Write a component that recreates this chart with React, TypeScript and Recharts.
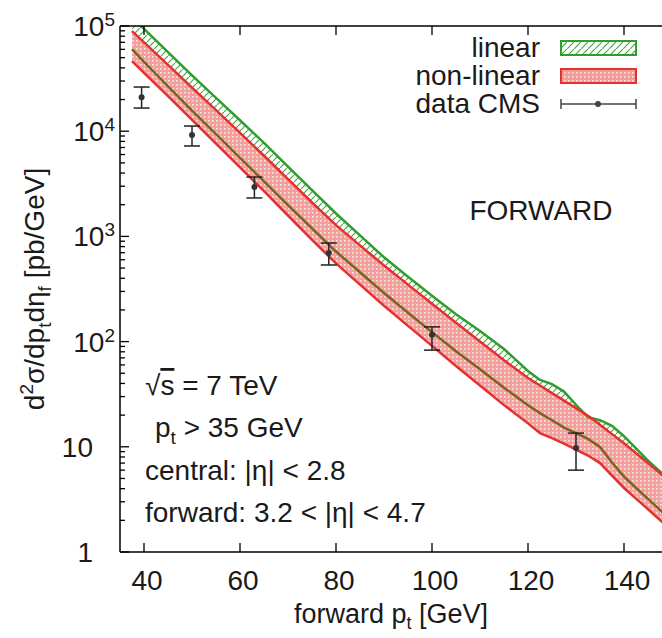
import React from 'react';
import { ComposedChart, Area, Line, Scatter, ErrorBar, XAxis, YAxis } from 'recharts';

// forward jet pt grid [GeV]
const pt = [37.5, 40, 45, 50, 55, 60, 65, 70, 75, 80, 85, 90, 95, 100, 105, 110, 115, 120, 122.5, 125, 127.5, 130, 132.5, 135, 137.5, 140, 142.5, 145, 150];
// linear evolution band
const linHi = [121000, 93800, 56500, 34000, 20700, 12700, 7740, 4600, 2750, 1650, 1023, 633, 414, 273, 182, 126, 85.1, 52.5, 43.2, 39.4, 33.5, 25.1, 19.1, 17.9, 15.8, 12.6, 9.67, 7.38, 4.6];
const linLo = [60300, 45700, 26700, 15700, 9360, 5570, 3340, 1980, 1190, 718, 456, 290, 188, 123, 81.1, 54.5, 36.5, 24.8, 20.9, 17.9, 15.2, 13.5, 11.9, 9.98, 7.08, 5.2, 4.07, 3.2, 1.97];
// non-linear evolution band
const nlHi = [89500, 70000, 42700, 26000, 15850, 9640, 5840, 3500, 2100, 1280, 822, 528, 348, 229, 151, 100, 66.5, 45.1, 38.3, 32.4, 27.5, 23.3, 19.7, 16.2, 13.2, 10.8, 8.69, 7.0, 4.5];
const nlLo = [46400, 35900, 21500, 12800, 7620, 4540, 2690, 1580, 929, 554, 348, 219, 141, 91, 58.7, 38.2, 24.9, 16.7, 13.5, 12.1, 10.7, 9.42, 8.26, 7.0, 5.32, 4.06, 3.22, 2.55, 1.59];

// CMS data
const cmsPt = [39.5, 50, 63, 78.5, 100, 130];
const cmsVal = [21000, 9200, 2950, 695, 116, 9.75];
const cmsLow = [16600, 7240, 2320, 535, 83, 6.0];
const cmsHigh = [26300, 11200, 3670, 865, 138, 13.5];

const xTicks = [40, 60, 80, 100, 120, 140];
const yMajor = [1, 10, 100, 1000, 10000, 100000];
const yTicks: number[] = [];
for (let d = 0; d < 5; d++) for (let m = 1; m <= 9; m++) yTicks.push(m * Math.pow(10, d));
yTicks.push(100000);

const bandData = pt.map((x, i) => ({ x, linLo: linLo[i], linHi: linHi[i], nlLo: nlLo[i], nlHi: nlHi[i] }));
const cmsData = cmsPt.map((x, i) => ({ x, y: cmsVal[i], err: [cmsVal[i] - cmsLow[i], cmsHigh[i] - cmsVal[i]] }));

const FONT = '"Liberation Sans", Arial, Helvetica, sans-serif';
const TXT = '#1a1a1a';
const GREEN = '#2f9e2f';
const RED = '#e53030';
const OLIVE = '#7a6420';

const isMajor = (v: number) => yMajor.some((m) => Math.abs(m - v) < 1e-6 * v);

const YTick = (props: any) => {
  const { x, y, payload } = props;
  const v = payload.value;
  const major = isMajor(v);
  const exp = Math.round(Math.log10(v));
  return (
    <g>
      <line x1={x} y1={y} x2={x + (major ? 9 : 5)} y2={y} stroke="#000" strokeWidth={1.3} />
      {major && exp >= 2 && (
        <text x={x - 5} y={y + 10} textAnchor="end" fontFamily={FONT} fontSize={28} fill={TXT}>
          10<tspan dy={-10} fontSize={19}>{exp}</tspan>
        </text>
      )}
      {major && exp < 2 && (
        <text x={x - 27} y={y + 10} textAnchor="end" fontFamily={FONT} fontSize={28} fill={TXT}>
          {exp === 0 ? '1' : '10'}
        </text>
      )}
    </g>
  );
};

const XTick = (props: any) => {
  const { x, y, payload } = props;
  return (
    <g>
      <line x1={x} y1={y} x2={x} y2={y - 9} stroke="#000" strokeWidth={1.3} />
      <text x={x + 3} y={y + 38} textAnchor="middle" fontFamily={FONT} fontSize={28} fill={TXT}>
        {payload.value}
      </text>
    </g>
  );
};

const TopTick = (props: any) => {
  const { x, y } = props;
  return <line x1={x} y1={y} x2={x} y2={y + 9} stroke="#000" strokeWidth={1.3} />;
};

export default function App() {
  return (
    <div style={{ position: 'absolute', left: 0, top: 0, width: 662, height: 638, overflow: 'hidden', background: '#fff' }}>
      <svg width={0} height={0} style={{ position: 'absolute' }}>
        <defs>
          <pattern id="redDots" width="4" height="4" patternUnits="userSpaceOnUse">
            <rect width="4" height="4" fill="#f49b98" />
            <rect x="0" y="0" width="1.6" height="1.6" fill="#fde6e4" />
          </pattern>
          <pattern id="greenHatch" width="7" height="7" patternUnits="userSpaceOnUse">
            <path d="M-1,8 L8,-1" stroke="#4aa84a" strokeWidth="1.2" />
          </pattern>
        </defs>
      </svg>
      <ComposedChart width={680} height={638} data={bandData} margin={{ top: 16, right: 8, left: 0, bottom: 0 }}>
        <XAxis xAxisId="b" dataKey="x" type="number" domain={[35, 150]} ticks={xTicks} orientation="bottom" height={86}
          tickSize={0} tickMargin={0} tickLine={false} interval={0} allowDataOverflow
          axisLine={{ stroke: '#000', strokeWidth: 1.5 }} tick={(p: any) => <XTick {...p} />} />
        <XAxis xAxisId="t" dataKey="x" type="number" domain={[35, 150]} ticks={xTicks} orientation="top" height={10}
          tickSize={0} tickMargin={0} tickLine={false} interval={0} allowDataOverflow
          axisLine={{ stroke: '#000', strokeWidth: 1.5 }} tick={(p: any) => <TopTick {...p} />} />
        <YAxis scale="log" domain={[1, 100000]} ticks={yTicks} interval={0} allowDataOverflow width={120}
          tickSize={0} tickMargin={0} tickLine={false}
          axisLine={{ stroke: '#000', strokeWidth: 1.5 }} tick={(p: any) => <YTick {...p} />} />
        <Area xAxisId="b" dataKey={(d: any) => [d.linLo, d.linHi]} stroke="none" fill="url(#greenHatch)" fillOpacity={1}
          isAnimationActive={false} />
        <Line xAxisId="b" dataKey="linHi" stroke={GREEN} strokeWidth={2.5} dot={false} activeDot={false} isAnimationActive={false} />
        <Area xAxisId="b" dataKey={(d: any) => [d.nlLo, d.nlHi]} stroke="none" fill="url(#redDots)" fillOpacity={0.95}
          isAnimationActive={false} />
        <Line xAxisId="b" dataKey="linLo" stroke={OLIVE} strokeWidth={2.5} dot={false} activeDot={false} isAnimationActive={false} />
        <Line xAxisId="b" dataKey="nlHi" stroke={RED} strokeWidth={2.5} dot={false} activeDot={false} isAnimationActive={false} />
        <Line xAxisId="b" dataKey="nlLo" stroke={RED} strokeWidth={2.5} dot={false} activeDot={false} isAnimationActive={false} />
        <Scatter xAxisId="b" data={cmsData} dataKey="y" fill="#333" isAnimationActive={false}
          shape={(p: any) => <circle cx={p.cx} cy={p.cy} r={3} fill="#333" />}>
          <ErrorBar dataKey="err" direction="y" width={8} stroke="#222" strokeWidth={1.5} />
        </Scatter>
      </ComposedChart>
      <svg width={662} height={638} style={{ position: 'absolute', left: 0, top: 0, pointerEvents: 'none' }}
        fontFamily={FONT} fill={TXT}>
        {/* legend */}
        <text x={540} y={57} textAnchor="end" fontSize={28}>linear</text>
        <rect x={561} y={41} width={75} height={14} fill="url(#greenHatch)" stroke={GREEN} strokeWidth={2} />
        <text x={540} y={85} textAnchor="end" fontSize={28}>non-linear</text>
        <rect x={561} y={69} width={75} height={14} fill="url(#redDots)" stroke={RED} strokeWidth={2} />
        <text x={540} y={113} textAnchor="end" fontSize={28}>data CMS</text>
        <line x1={561} y1={104} x2={636} y2={104} stroke="#444" strokeWidth={1.5} />
        <line x1={561} y1={99} x2={561} y2={109} stroke="#444" strokeWidth={1.5} />
        <line x1={636} y1={99} x2={636} y2={109} stroke="#444" strokeWidth={1.5} />
        <circle cx={598} cy={104} r={3} fill="#444" />
        {/* labels */}
        <text x={541} y={220} textAnchor="middle" fontSize={28}>FORWARD</text>
        <text x={145} y={395} fontSize={28} style={{ whiteSpace: 'pre' }}>
          √<tspan textDecoration="overline" style={{ textDecoration: 'overline' }}>s</tspan> = 7 TeV
        </text>
        <text x={155} y={437} fontSize={28} style={{ whiteSpace: 'pre' }}>
          p<tspan dy={7} fontSize={19}>t</tspan><tspan dy={-7}> &gt; 35 GeV</tspan>
        </text>
        <text x={145} y={480} fontSize={28} style={{ whiteSpace: 'pre' }}>central: |η| &lt; 2.8</text>
        <text x={145} y={522} fontSize={28} style={{ whiteSpace: 'pre' }}>forward: 3.2 &lt; |η| &lt; 4.7</text>
        <text x={391} y={623} textAnchor="middle" fontSize={27} style={{ whiteSpace: 'pre' }}>
          forward p<tspan dy={6} fontSize={18}>t</tspan><tspan dy={-6}> [GeV]</tspan>
        </text>
        <text transform="translate(44,289) rotate(-90)" textAnchor="middle" fontSize={28} style={{ whiteSpace: 'pre' }}>
          d<tspan dy={-11} fontSize={19}>2</tspan><tspan dy={11}>σ/dp</tspan><tspan dy={7} fontSize={19}>t</tspan>
          <tspan dy={-7}>dη</tspan><tspan dy={7} fontSize={19}>f</tspan><tspan dy={-7}> [pb/GeV]</tspan>
        </text>
      </svg>
    </div>
  );
}
